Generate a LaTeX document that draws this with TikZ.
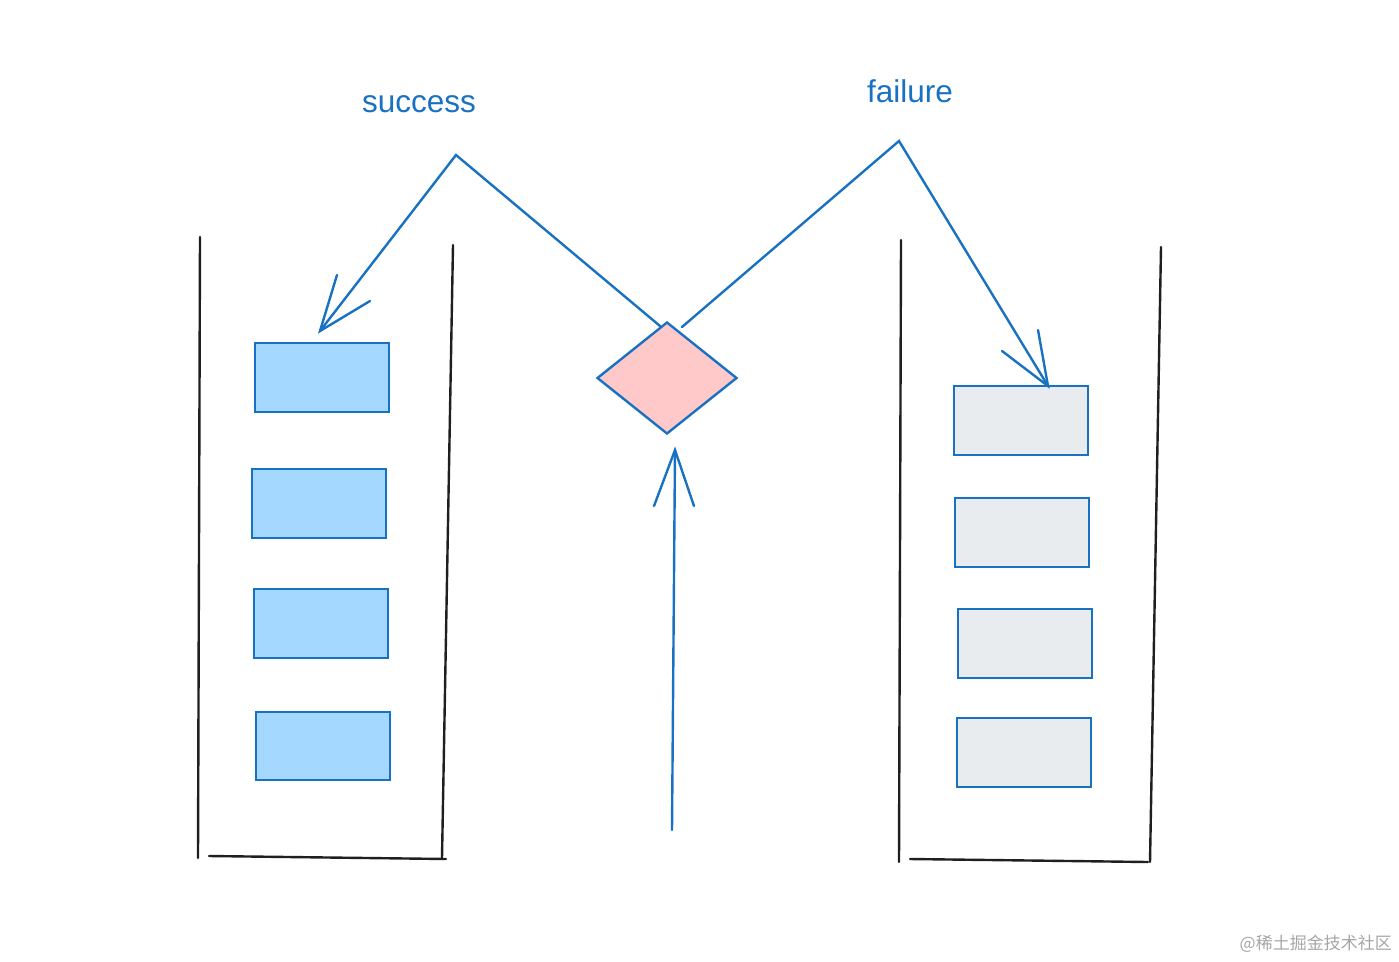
\documentclass[tikz,border=0pt]{standalone}
\usepackage{fontspec}
\setmainfont{Liberation Sans}
\newfontfamily\cjkfont{Noto Sans CJK SC}
\usetikzlibrary{shapes.geometric}
\definecolor{exblue}{HTML}{1971C2}
\definecolor{boxblue}{HTML}{A5D8FF}
\definecolor{boxgray}{HTML}{E9ECEF}
\definecolor{diapink}{HTML}{FFC9C9}
\tikzset{
  wall/.style={line width=2.4pt, black!88, line cap=round},
  conn/.style={line width=2.4pt, exblue, line cap=round, line join=miter},
  bluebox/.style={draw=exblue, line width=2.4pt, fill=boxblue},
  graybox/.style={draw=exblue, line width=2.4pt, fill=boxgray},
  lbl/.style={text=exblue, font=\fontsize{31.5}{36}\selectfont, inner sep=0pt}
}
\begin{document}
\begin{tikzpicture}[x=1pt,y=-1pt]
\useasboundingbox (0,0) rectangle (1399,961);
% containers
\draw[wall] (200,237) -- (198,858);
\draw[wall] (453,245) -- (442,858);
\draw[wall] (209,856) -- (446,859);
\draw[wall] (901,240) -- (899,862);
\draw[wall] (1161,247) -- (1150,862);
\draw[wall] (910,859) -- (1148,862);
% left boxes
\draw[bluebox] (255,343) rectangle (389,412);
\draw[bluebox] (252,469) rectangle (386,538);
\draw[bluebox] (254,589) rectangle (388,658);
\draw[bluebox] (256,712) rectangle (390,780);
% right boxes
\draw[graybox] (954,386) rectangle (1088,455);
\draw[graybox] (955,498) rectangle (1089,567);
\draw[graybox] (958,609) rectangle (1092,678);
\draw[graybox] (957,718) rectangle (1091,787);
% diamond
\node[draw=exblue, line width=2.4pt, fill=diapink, shape=diamond, minimum width=140pt, minimum height=112pt, inner sep=0pt] (dia) at (667,378) {};
% labels
\node[lbl] (succ) at (419,104) {success};
\node[lbl] (fail) at (910,91) {failure};
% success arrow
\coordinate (s0) at (660,326);
\coordinate (s1) at (456,155);
\coordinate (s2) at (320,331);
\coordinate (sb1) at (337,275);
\coordinate (sb2) at (370,301);
\draw[conn] (s0) -- (s1) -- (s2);
\draw[conn] (sb1) -- (s2) -- (sb2);
% failure arrow
\coordinate (f0) at (682,327);
\coordinate (f1) at (899,141);
\coordinate (f2) at (1048,386);
\coordinate (fb1) at (1038,330);
\coordinate (fb2) at (1002,351);
\draw[conn] (f0) -- (f1) -- (f2);
\draw[conn] (fb1) -- (f2) -- (fb2);
% up arrow
\coordinate (u0) at (672,830);
\coordinate (u1) at (675,450);
\coordinate (ub1) at (654,506);
\coordinate (ub2) at (694,506);
\draw[conn] (u0) -- (u1);
\draw[conn] (ub1) -- (u1) -- (ub2);
% watermark
\node[text=black!35, font=\cjkfont\fontsize{17}{20}\selectfont, inner sep=0pt, anchor=east] (wm) at (1392,944) {@稀土掘金技术社区};
\end{tikzpicture}
\end{document}
